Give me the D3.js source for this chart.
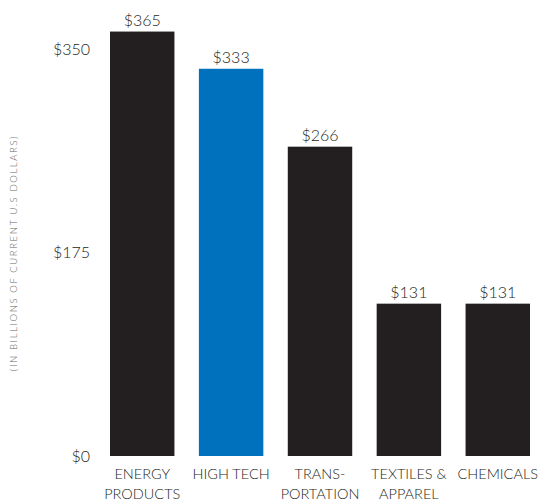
<!DOCTYPE html>
<html>
<head>
<meta charset="utf-8">
<script src="https://cdn.jsdelivr.net/npm/d3@7"></script>
<style>
  html, body { margin: 0; padding: 0; background: #fff; }
  svg text { font-family: Lato, "Open Sans", sans-serif; font-weight: 300; fill: #231f20; }
</style>
</head>
<body>
<svg id="chart" width="548" height="501"></svg>
<script>
// Export values by sector, billions of current U.S. dollars
const categories = [["ENERGY", "PRODUCTS"], ["HIGH TECH"], ["TRANS-", "PORTATION"], ["TEXTILES &", "APPAREL"], ["CHEMICALS"]];
const values = [365, 333, 266, 131, 131];
const highlight = [false, true, false, false, false];
const tickValues = [0, 175, 350];

const svg = d3.select("#chart");
const dark = "#231f20", blue = "#0071bc";

const x = d3.scaleBand()
  .domain(d3.range(values.length))
  .range([110, 530])
  .paddingInner(0.275)
  .paddingOuter(0);

const y = d3.scaleLinear().domain([0, 350]).range([456, 49]);

// Y axis: tick labels only
const yAxis = d3.axisLeft(y).tickValues(tickValues).tickSize(0).tickPadding(0)
  .tickFormat(d => "$" + d);
const gy = svg.append("g").attr("transform", "translate(90,0)").call(yAxis);
gy.select(".domain").remove();
gy.selectAll("text").attr("font-size", 16).attr("dy", "0.32em")
  .style("font-family", "Lato, 'Open Sans', sans-serif").style("font-weight", 300).attr("fill", dark);

// Bars
svg.append("g").selectAll("rect").data(values).join("rect")
  .attr("x", (d, i) => x(i))
  .attr("y", d => y(d))
  .attr("width", x.bandwidth())
  .attr("height", d => y(0) - y(d))
  .attr("fill", (d, i) => highlight[i] ? blue : dark);

// Value labels
svg.append("g").selectAll("text").data(values).join("text")
  .attr("x", (d, i) => x(i) + x.bandwidth() / 2)
  .attr("y", d => y(d) - 6)
  .attr("text-anchor", "middle")
  .attr("font-size", 16)
  .text(d => "$" + d);

// Category labels
const cat = svg.append("g").selectAll("text").data(categories).join("text")
  .attr("x", (d, i) => x(i) + x.bandwidth() / 2)
  .attr("y", 479)
  .attr("text-anchor", "middle")
  .attr("font-size", 14.5);
cat.selectAll("tspan").data(d => d).join("tspan")
  .attr("x", function() { return d3.select(this.parentNode).attr("x"); })
  .attr("dy", (d, i) => i === 0 ? 0 : 19.5)
  .text(d => d);

// Axis title
svg.append("text")
  .attr("transform", "translate(17,253) rotate(-90)")
  .attr("text-anchor", "middle")
  .attr("font-size", 9.5)
  .attr("letter-spacing", 1.6)
  .style("fill", "#666")
  .text("(IN BILLIONS OF CURRENT U.S DOLLARS)");
</script>
</body>
</html>
